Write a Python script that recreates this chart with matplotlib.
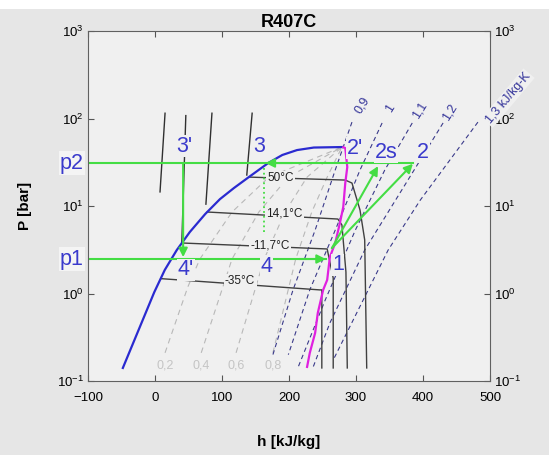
import matplotlib
matplotlib.use("Agg")
import matplotlib.pyplot as plt
from matplotlib.ticker import LogLocator, LogFormatterSciNotation, NullLocator, FixedLocator
from matplotlib.patches import Rectangle

plt.rcParams['font.family'] = ['Liberation Sans', 'DejaVu Sans']

# saturation lines (h in kJ/kg, P in bar)
h_liq = [-48, -24.5, -1, 14.6, 32.5, 52, 75, 97, 118, 140, 169, 190, 212, 237, 279]
p_liq = [0.141, 0.383, 1.04, 1.86, 3.14, 5.05, 8.11, 12.0, 16.1, 21.4, 31.0, 38.3, 43.6,
         46.6, 47.2]
h_vap = [281, 284, 287, 284, 281, 276, 269, 261, 257, 251, 243, 239, 231, 227]
p_vap = [47.0, 46.0, 27.9, 18.3, 9.75, 6.39, 3.78, 2.61, 1.43, 1.10, 0.60, 0.354, 0.209, 0.145]

# cycle
p1, p2 = 2.48, 31.0
h1, h2s, h2, h3, h3p = 255, 333, 385, 165, 42
h_comp0, p_comp0 = 264, 3.3

# quality lines
q_labels = ['0,2', '0,4', '0,6', '0,8']
q_h = [[15, 49, 67, 115, 170, 279],
       [69, 115, 155, 199, 279],
       [121, 163, 194, 227, 279],
       [176, 210, 234, 257, 279]]
q_p = [[0.21, 1.19, 2.48, 8.54, 21.4, 47.2],
       [0.21, 2.48, 8.54, 21.4, 47.2],
       [0.21, 2.48, 8.54, 21.4, 47.2],
       [0.21, 2.48, 8.54, 21.4, 47.2]]

# entropy lines
s_labels = ['0,9', '1', '1,1', '1,2', '1,3 kJ/kg-K']
s_h = [[294, 269, 239, 206, 176],
       [339, 306, 269, 231, 199],
       [384, 343, 299, 254, 213],
       [430, 373, 313, 261, 236],
       [482, 396, 348, 266]]
s_p = [[91, 25.8, 5.3, 1.1, 0.2],
       [89, 25.8, 5.3, 1.1, 0.2],
       [89, 25.8, 5.3, 0.84, 0.14],
       [89, 17.4, 3.14, 0.46, 0.144],
       [91, 11.7, 3.14, 0.174]]
s_lab_h = [309, 351, 396, 440, 527]
s_lab_p = [143, 132, 125, 119, 171]

# isotherms
t_labels = ['50°C', '14,1°C', '-11,7°C', '-35°C']
t_lab_h = [187, 193, 172, 127]
t_lab_p = [20.9, 8.3, 3.58, 1.39]
t_h = [[141, 284, 294, 306, 313, 316],
       [78, 273, 279, 285, 287],
       [40, 257, 266, 266],
       [8.5, 246, 249, 249]]
t_p = [[21.4, 19.8, 18.3, 9.0, 4.1, 0.141],
       [8.54, 7.1, 6.07, 1.76, 0.141],
       [3.78, 3.23, 1.5, 0.141],
       [1.48, 1.1, 1.1, 0.141]]
tl_h = [[145, 137], [85, 76], [46, 40], [15, 7.5]]
tl_p = [[115, 22.6], [115, 10.5], [108, 3.78], [115, 14.5]]

# state point labels
pt_labels = ["3'", '3', "2'", '2s', '2', '1', '4', "4'"]
pt_h = [43, 155, 298, 345, 400, 273, 166, 46]
pt_p = [48.5, 48.5, 46, 41.4, 41.4, 2.12, 2.06, 1.86]

GREEN = '#44dd44'
BLUE = '#3a3acc'
BG = '#f0f0f0'

fig = plt.figure(figsize=(5.49, 4.55), dpi=100, facecolor='#e6e6e6')
fig.add_artist(Rectangle((0, 1 - 9 / 455), 1, 9 / 455, transform=fig.transFigure,
                         facecolor='white', edgecolor='none'))
ax = fig.add_axes([0.1603, 0.1626, 0.7322, 0.7692], facecolor=BG)
ax.set_yscale('log')
ax.set_xlim(-100, 500)
ax.set_ylim(0.1, 1000)

for hh, pp in zip(q_h, q_p):
    ax.plot(hh, pp, color='#b8b8b8', lw=0.8, ls=(0, (5, 4)))
for hh, pp, lab in zip(q_h, q_p, q_labels):
    ax.text(hh[0], 0.152, lab, color='#c4c4c4', fontsize=9, ha='center', va='center')

for hh, pp in zip(s_h, s_p):
    ax.plot(hh, pp, color='#3a3a8a', lw=0.8, ls=(0, (4, 3)))
for i, lab in enumerate(s_labels):
    kw = {}
    if i == 4:
        kw = dict(bbox=dict(facecolor=BG, edgecolor='none', pad=1), clip_on=False)
    ax.text(s_lab_h[i], s_lab_p[i], lab, color='#333399', fontsize=9,
            rotation=58 if i < 4 else 50, ha='center', va='center', **kw)

for hh, pp in zip(t_h, t_p):
    ax.plot(hh, pp, color='#404040', lw=1)
for hh, pp in zip(tl_h, tl_p):
    ax.plot(hh, pp, color='#303030', lw=1)
for i, lab in enumerate(t_labels):
    ax.text(t_lab_h[i], t_lab_p[i], lab, fontsize=8.5, color='#202020', ha='center', va='center',
            bbox=dict(facecolor=BG, edgecolor='none', pad=1))

ax.plot(h_liq, p_liq, color='#2a2ad0', lw=1.6)
ax.plot(h_vap, p_vap, color='#e020e0', lw=1.6)

# cycle lines
ax.plot([-100, h2], [p2, p2], color=GREEN, lw=1.5)
ax.plot([-100, h1], [p1, p1], color=GREEN, lw=1.5)
ax.plot([h3 - 3, h3 - 3], [27.2, 4.67], color=GREEN, lw=1.3, ls=':')
arrow = dict(arrowstyle='-|>', color=GREEN, lw=1.5, mutation_scale=13, shrinkA=0, shrinkB=0)
ax.annotate('', xy=(h3, p2), xytext=(h3 + 40, p2), arrowprops=arrow)
ax.annotate('', xy=(h1, p1), xytext=(h1 - 40, p1), arrowprops=arrow)
ax.annotate('', xy=(h3p, p1 * 1.05), xytext=(h3p, p2), arrowprops=arrow)
ax.annotate('', xy=(h2s, 28.6), xytext=(h_comp0, p_comp0), arrowprops=arrow)
ax.annotate('', xy=(h2, 30.4), xytext=(h_comp0, p_comp0), arrowprops=arrow)

for lab, hh, pp in zip(pt_labels, pt_h, pt_p):
    ax.text(hh, pp, lab, color=BLUE, fontsize=15.5, ha='center', va='center',
            bbox=dict(facecolor=BG, edgecolor='none', pad=0.5))
ax.text(-124, p2, 'p2', color=BLUE, fontsize=15.5, ha='center', va='center', clip_on=False,
        bbox=dict(facecolor='#f4f4f4', edgecolor='none', pad=1))
ax.text(-124, p1, 'p1', color=BLUE, fontsize=15.5, ha='center', va='center', clip_on=False,
        bbox=dict(facecolor='#f4f4f4', edgecolor='none', pad=1))

ax.xaxis.set_major_locator(FixedLocator([-100, 0, 100, 200, 300, 400, 500]))
ax.yaxis.set_major_locator(LogLocator(base=10, numticks=10))
ax.yaxis.set_major_formatter(LogFormatterSciNotation())
ax.yaxis.set_minor_locator(NullLocator())
ax.tick_params(which='both', direction='in', top=True, right=True, labelright=True,
               labelsize=9.5, length=4, color='#555555', pad=3)
ax.tick_params(axis='x', pad=8)
for sp in ax.spines.values():
    sp.set_color('#606060')

ax.set_title('R407C', fontsize=13, fontweight='bold', pad=1)
ax.set_xlabel('h [kJ/kg]', fontsize=11, fontweight='bold', labelpad=22)
ax.set_ylabel('P [bar]', fontsize=11, fontweight='bold', labelpad=18)

fig.savefig('out.png', dpi=100, facecolor=fig.get_facecolor())
